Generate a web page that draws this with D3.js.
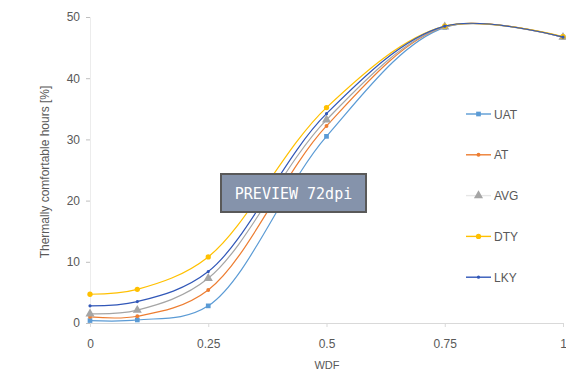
<!DOCTYPE html>
<html>
<head>
<meta charset="utf-8">
<script src="https://cdn.jsdelivr.net/npm/d3@7"></script>
<style>
  body { margin: 0; background: #fff; }
  text { font-family: "Liberation Sans", Arial, sans-serif; fill: #595959; }
</style>
</head>
<body>
<svg id="chart" width="566" height="373"></svg>
<script>
'use strict';

// WDF values along x
var wdf = [0, 0.1, 0.25, 0.5, 0.75, 1];

var seriesNames = ['UAT', 'AT', 'AVG', 'DTY', 'LKY'];
var uat = [0.4, 0.5, 2.8, 30.5, 48.3, 46.7];
var at  = [1.0, 1.1, 5.4, 32.2, 48.4, 46.7];
var avg = [1.5, 2.1, 7.3, 33.2, 48.4, 46.7];
var dty = [4.7, 5.5, 10.8, 35.2, 48.5, 46.8];
var lky = [2.8, 3.5, 8.4, 34.2, 48.5, 46.7];

var xTicks = [0, 0.25, 0.5, 0.75, 1];
var yTicks = [0, 10, 20, 30, 40, 50];

var colors = ['#5b9bd5', '#ed7d31', '#a5a5a5', '#ffc000', '#3157b8'];
var markers = ['square', 'circle', 'triangle', 'circle', 'circle'];
var markerSizes = [22, 12, 36, 22, 8];

var allValues = [uat, at, avg, dty, lky];

var svg = d3.select('#chart');

var xscale = d3.scaleLinear().domain([0, 1]).range([90, 563]);
var yscale = d3.scaleLinear().domain([0, 50]).range([323, 17]);

// y axis
var yAxis = svg.append('g')
    .attr('transform', 'translate(90,0)')
    .call(d3.axisLeft(yscale).tickValues(yTicks).tickSize(4).tickPadding(6));
yAxis.select('.domain').attr('stroke', '#ececec');
yAxis.selectAll('.tick line').attr('stroke', '#bfbfbf');
yAxis.selectAll('.tick text').style('font-size', '12px').style('fill', '#595959');

// x axis
var xAxis = svg.append('g')
    .attr('transform', 'translate(0,323)')
    .call(d3.axisBottom(xscale).tickValues(xTicks).tickSize(4).tickPadding(12)
        .tickFormat(function (d) { return String(d); }));
xAxis.select('.domain').attr('stroke', '#d9d9d9');
xAxis.selectAll('.tick line').attr('stroke', '#d9d9d9');
xAxis.selectAll('.tick text').style('font-size', '12px').style('fill', '#595959');

// axis titles
svg.append('text')
    .attr('x', 327).attr('y', 369)
    .attr('text-anchor', 'middle')
    .style('font-size', '11px')
    .text('WDF');

svg.append('text')
    .attr('transform', 'translate(49,172) rotate(-90)')
    .attr('text-anchor', 'middle')
    .style('font-size', '12px')
    .text('Thermally comfortable hours [%]');

// lines
var line = d3.line()
    .x(function (d, i) { return xscale(wdf[i]); })
    .y(function (d) { return yscale(d); })
    .curve(d3.curveCatmullRom.alpha(0.5));

var symbolType = function (name) {
    if (name == 'square') return d3.symbolSquare;
    if (name == 'triangle') return d3.symbolTriangle;
    return d3.symbolCircle;
};

allValues.forEach(function (values, s) {
    svg.append('path')
        .datum(values)
        .attr('d', line)
        .attr('fill', 'none')
        .attr('stroke', colors[s])
        .attr('stroke-width', 1.2);

    svg.selectAll('.pt' + s).data(values).enter().append('path')
        .attr('class', 'pt' + s)
        .attr('d', d3.symbol().type(symbolType(markers[s])).size(markerSizes[s]))
        .attr('fill', colors[s])
        .attr('transform', function (d, i) {
            return 'translate(' + xscale(wdf[i]) + ',' + yscale(d) + ')';
        });
});

// legend
var legend = svg.append('g');
seriesNames.forEach(function (name, s) {
    var ly = 114 + s * 40.8;
    legend.append('line')
        .attr('x1', 466).attr('x2', 491)
        .attr('y1', ly).attr('y2', ly)
        .attr('stroke', s == 2 ? '#e6e6e6' : colors[s])
        .attr('stroke-width', 1.4);
    legend.append('path')
        .attr('d', d3.symbol().type(symbolType(markers[s])).size(markerSizes[s]))
        .attr('fill', colors[s])
        .attr('transform', 'translate(478.5,' + ly + ')');
    legend.append('text')
        .attr('x', 494).attr('y', ly + 4.5)
        .style('font-size', '12px')
        .text(name);
});

// preview stamp
svg.append('rect')
    .attr('x', 221).attr('y', 174)
    .attr('width', 145).attr('height', 38)
    .attr('fill', '#8593ab')
    .attr('stroke', '#595959')
    .attr('stroke-width', 2);
svg.append('text')
    .attr('x', 293.5).attr('y', 199)
    .attr('text-anchor', 'middle')
    .style('font-family', '"DejaVu Sans Mono", monospace')
    .style('font-size', '15px')
    .style('fill', '#ffffff')
    .text('PREVIEW 72dpi');
</script>
</body>
</html>
